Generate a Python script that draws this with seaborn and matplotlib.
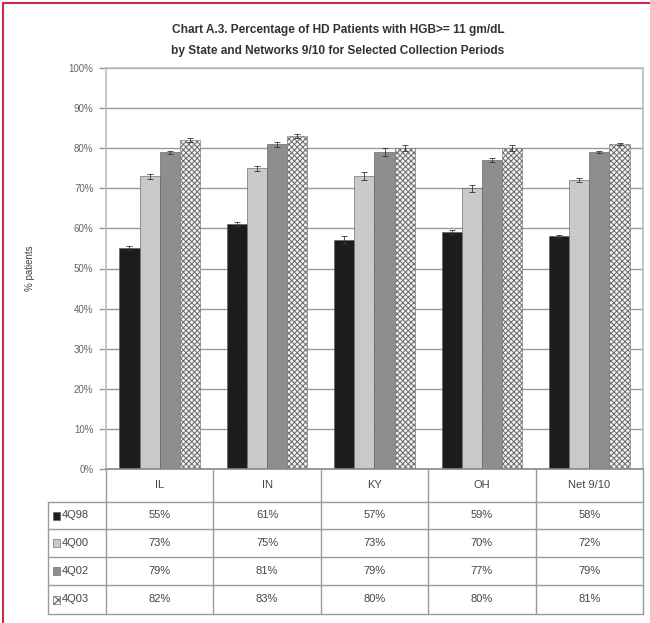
import numpy as np
import pandas as pd
import seaborn as sns
import matplotlib.pyplot as plt
from matplotlib.patches import Rectangle
from matplotlib.lines import Line2D

# ---------- data ----------
regions = ["IL", "IN", "KY", "OH", "Net 9/10"]
periods = ["4Q98", "4Q00", "4Q02", "4Q03"]
pct_4q98 = [55, 61, 57, 59, 58]
pct_4q00 = [73, 75, 73, 70, 72]
pct_4q02 = [79, 81, 79, 77, 79]
pct_4q03 = [82, 83, 80, 80, 81]
err_4q98 = [0.5, 0.5, 1.0, 0.5, 0.3]
err_4q00 = [0.6, 0.6, 1.0, 0.8, 0.5]
err_4q02 = [0.4, 0.6, 1.0, 0.5, 0.3]
err_4q03 = [0.5, 0.5, 0.8, 0.7, 0.3]

values = [pct_4q98, pct_4q00, pct_4q02, pct_4q03]
errors = [err_4q98, err_4q00, err_4q02, err_4q03]
df = pd.DataFrame({
    "region": np.tile(regions, len(periods)),
    "period": np.repeat(periods, len(regions)),
    "pct": np.concatenate(values),
    "err": np.concatenate(errors),
})

colors = ["#1c1c1c", "#c9c9c9", "#8e8e8e", "#f2f2f2"]

sns.set_style("white")
plt.rcParams["font.family"] = ["Liberation Sans", "DejaVu Sans"]
plt.rcParams["hatch.linewidth"] = 0.7

fig = plt.figure(figsize=(6.5, 6.23), dpi=100)
fig.patch.set_facecolor("white")
ax = fig.add_axes([106 / 650, 1 - 469 / 623, 537 / 650, 401 / 623])

sns.barplot(data=df, x="region", y="pct", hue="period", order=regions,
            hue_order=periods, palette=colors, width=0.75, saturation=1,
            errorbar=None, legend=False, ax=ax, linewidth=0.4,
            edgecolor="#555555")

# hatch for last period, error bars from bar geometry
bars = ax.patches
for k, p in enumerate(periods):
    for i in range(len(regions)):
        b = bars[k * len(regions) + i]
        if p == "4Q03":
            b.set_hatch("xxxxxx")
            b.set_edgecolor("#6a6a6a")
        cx = b.get_x() + b.get_width() / 2
        ax.errorbar(cx, b.get_height(), yerr=errors[k][i], color="#333333",
                    elinewidth=0.6, capsize=2, capthick=0.6)

ax.set_ylim(0, 100)
ax.set_xlim(-0.5, len(regions) - 0.5)
ax.set_yticks(range(0, 101, 10))
ax.set_yticklabels([f"{t}%" for t in range(0, 101, 10)], fontsize=7, color="#666666")
ax.set_xticks([])
ax.set_xlabel("")
ax.set_ylabel("% patients", fontsize=7, color="#444444", labelpad=24)
ax.yaxis.grid(True, color="#9a9a9a", linewidth=1.0)
ax.set_axisbelow(True)
ax.tick_params(axis="y", length=5, width=1.0, color="#9a9a9a", pad=4, left=True)
for s in ax.spines.values():
    s.set_color("#bbbbbb")
    s.set_linewidth(1.2)
ax.spines["bottom"].set_color("#888888")

fig.text(0.52, 1 - 30 / 623, "Chart A.3. Percentage of HD Patients with HGB>= 11 gm/dL",
         ha="center", va="center", fontsize=8.6, fontweight="bold", color="#333333")
fig.text(0.52, 1 - 51 / 623, "by State and Networks 9/10 for Selected Collection Periods",
         ha="center", va="center", fontsize=8.6, fontweight="bold", color="#333333")

# ---------- data table under the axes ----------
row_px = [469, 502, 529, 557, 585, 614]
row_y = [1 - y / 623 for y in row_px]
x0 = 106 / 650
x_left = 48 / 650
x1 = 643 / 650
colw = (x1 - x0) / len(regions)
lc = "#9a9a9a"

def hline(y, xa, xb):
    fig.add_artist(Line2D([xa, xb], [y, y], color=lc, lw=1.0, transform=fig.transFigure))

def vline(x, ya, yb):
    fig.add_artist(Line2D([x, x], [ya, yb], color=lc, lw=1.0, transform=fig.transFigure))

for j in range(1, len(row_y)):
    hline(row_y[j], x_left, x1)
for i in range(len(regions) + 1):
    vline(x0 + i * colw, row_y[0], row_y[-1])
vline(x_left, row_y[1], row_y[-1])

for i, r in enumerate(regions):
    fig.text(x0 + (i + 0.5) * colw, (row_y[0] + row_y[1]) / 2, r,
             ha="center", va="center", fontsize=8, color="#444444")

for k, p in enumerate(periods):
    yc = (row_y[k + 1] + row_y[k + 2]) / 2
    sw = Rectangle((53 / 650, yc - 4 / 623), 7 / 650, 8 / 623,
                   transform=fig.transFigure, facecolor=colors[k],
                   edgecolor="#555555", linewidth=0.4,
                   hatch="xxxx" if p == "4Q03" else None)
    fig.add_artist(sw)
    fig.text(62 / 650, yc, p, ha="left", va="center", fontsize=8, color="#444444")
    for i in range(len(regions)):
        fig.text(x0 + (i + 0.5) * colw, yc, f"{values[k][i]}%",
                 ha="center", va="center", fontsize=8, color="#444444")

# red frame lines on the page edge
fig.add_artist(Line2D([3 / 650, 3 / 650], [0, 1 - 3 / 623], color="#c8284a", lw=1.5,
                      transform=fig.transFigure))
fig.add_artist(Line2D([3 / 650, 1], [1 - 3 / 623, 1 - 3 / 623], color="#c8284a", lw=1.5,
                      transform=fig.transFigure))

fig.savefig("out.png", dpi=100)
